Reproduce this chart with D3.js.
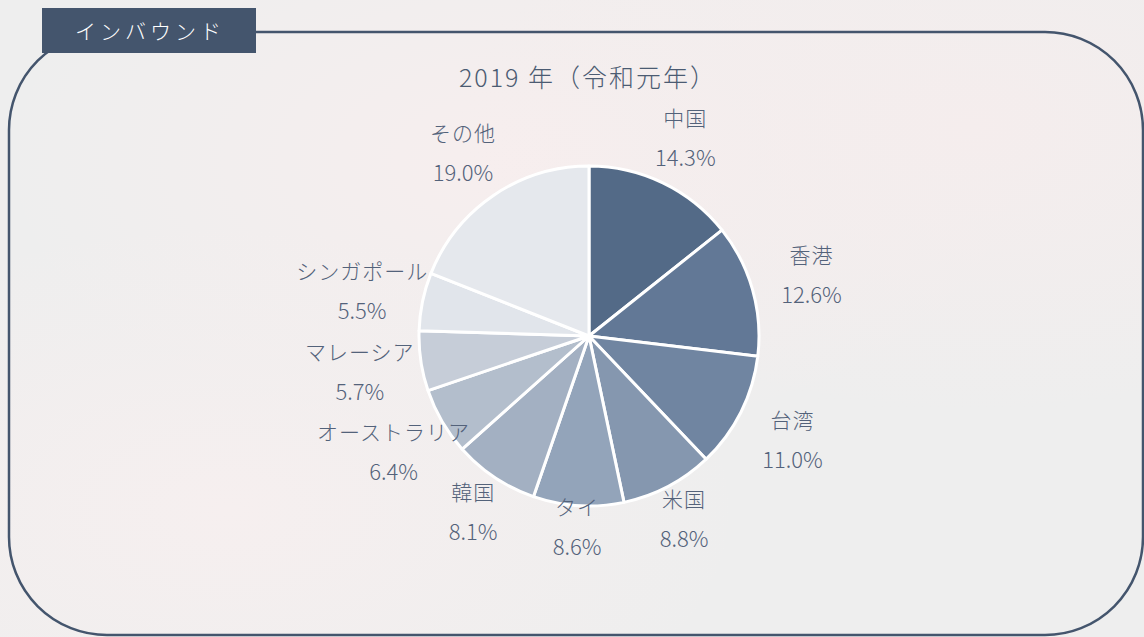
<!DOCTYPE html>
<html lang="ja">
<head>
<meta charset="utf-8">
<script src="https://cdn.jsdelivr.net/npm/d3@7"></script>
<style>
  html, body { margin: 0; padding: 0; }
  body { width: 1144px; height: 637px; overflow: hidden; background: #eeeded; }
  svg text { font-family: "Noto Sans CJK JP", "Noto Sans", sans-serif; }
</style>
</head>
<body>
<svg id="chart" width="1144" height="637"></svg>
<script>
// データ
const tagLabel = "インバウンド";
const chartTitle = "2019 年（令和元年）";
const countries = ["中国", "香港", "台湾", "米国", "タイ", "韓国", "オーストラリア", "マレーシア", "シンガポール", "その他"];
const shares = [14.3, 12.6, 11.0, 8.8, 8.6, 8.1, 6.4, 5.7, 5.5, 19.0];
const sliceColors = ["#536a87", "#627896", "#7085a1", "#8597af", "#93a4ba", "#a3b0c2", "#b3becc", "#c6cdd8", "#e1e5eb", "#e5e8ed"];

const W = 1144, H = 637;
const svg = d3.select("#chart");

// 背景（ぼかし写真の雰囲気）
const defs = svg.append("defs");
const blobs = [
  { id: "b1", cx: 0.45, cy: 0.25, c: "#f7eeee" },
  { id: "b2", cx: 0.85, cy: 0.2, c: "#f5eded" },
  { id: "b3", cx: 0.2, cy: 0.8, c: "#f6efef" }
];
blobs.forEach(function (b) {
  const g = defs.append("radialGradient").attr("id", b.id)
    .attr("cx", b.cx).attr("cy", b.cy).attr("r", 0.45);
  g.append("stop").attr("offset", "0%").attr("stop-color", b.c).attr("stop-opacity", 1);
  g.append("stop").attr("offset", "100%").attr("stop-color", b.c).attr("stop-opacity", 0);
});
svg.append("rect").attr("width", W).attr("height", H).attr("fill", "#eeeeee");
blobs.forEach(function (b) {
  svg.append("rect").attr("width", W).attr("height", H).attr("fill", "url(#" + b.id + ")");
});

// 枠
const frameColor = "#44556d";
svg.append("rect")
   .attr("x", 9).attr("y", 32)
   .attr("width", 1134).attr("height", 603)
   .attr("rx", 98).attr("ry", 98)
   .attr("fill", "none")
   .attr("stroke", frameColor)
   .attr("stroke-width", 2.5);

// タグ
svg.append("rect")
   .attr("x", 42).attr("y", 8)
   .attr("width", 214).attr("height", 45)
   .attr("fill", "#44556d");
svg.append("text")
   .attr("x", 150).attr("y", 30)
   .attr("text-anchor", "middle")
   .attr("dominant-baseline", "central")
   .attr("fill", "#ffffff")
   .attr("font-size", 21)
   .attr("font-weight", 300)
   .attr("letter-spacing", "4px")
   .text(tagLabel);

// タイトル
svg.append("text")
   .attr("x", 588).attr("y", 76)
   .attr("text-anchor", "middle")
   .attr("dominant-baseline", "central")
   .attr("fill", "#4b5b72")
   .attr("font-size", 25)
   .attr("font-weight", 300)
   .attr("letter-spacing", "2px")
   .text(chartTitle);

// 円グラフ
const cx = 589, cy = 336;
const radius = 170;

const dataset = countries.map(function (c, i) { return { label: c, value: shares[i] }; });

const color = d3.scaleOrdinal()
                .domain(countries)
                .range(sliceColors);

const pie = d3.pie()
              .sort(null)
              .value(function (d) { return d.value; });

const path = d3.arc()
               .outerRadius(radius)
               .innerRadius(0);

// ラベル位置：外側、下側は少し内寄せ
function labelPos(d) {
  const a = (d.startAngle + d.endAngle) / 2;
  const s = Math.sin(a), c = -Math.cos(a);
  const r = radius + 44 + 18 * Math.abs(s) - 26 * Math.pow(Math.max(0, c), 3);
  return [s * r, c * r];
}

const g = svg.append("g")
             .attr("transform", "translate(" + cx + "," + cy + ")");

const arcs = g.selectAll(".arc")
              .data(pie(dataset))
              .enter()
              .append("g")
              .attr("class", "arc");

arcs.append("path")
    .attr("d", path)
    .attr("fill", function (d) { return color(d.data.label); })
    .attr("stroke", "#ffffff")
    .attr("stroke-width", 3)
    .attr("stroke-linejoin", "round");

const labels = arcs.append("g")
    .attr("transform", function (d) { return "translate(" + labelPos(d) + ")"; })
    .attr("fill", "#53627a")
    .attr("font-size", 21)
    .attr("font-weight", 300);

labels.append("text")
      .attr("text-anchor", "middle")
      .attr("dominant-baseline", "central")
      .attr("y", -19)
      .attr("letter-spacing", "1px")
      .text(function (d) { return d.data.label; });

labels.append("text")
      .attr("text-anchor", "middle")
      .attr("dominant-baseline", "central")
      .attr("y", 20)
      .attr("font-size", 22)
      .text(function (d) { return d.data.value.toFixed(1) + "%"; });
</script>
</body>
</html>
